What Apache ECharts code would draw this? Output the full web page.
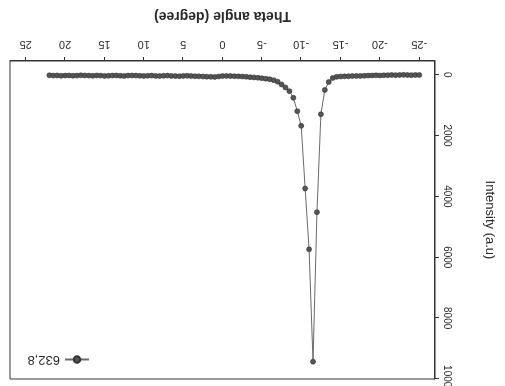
<!DOCTYPE html>
<html>
<head>
<meta charset="utf-8">
<script src="https://cdn.jsdelivr.net/npm/echarts@6/dist/echarts.min.js"></script>
<style>
  html, body { margin: 0; padding: 0; background: #fff; }
  /* the scanned figure is upside down, so the whole chart is turned */
  #chart { width: 505px; height: 386px; transform: rotate(180deg); }
</style>
</head>
<body>
<div id="chart"></div>
<script>
// theta angle (degree)
const theta = [
  22, 21.5, 21, 20.5, 20, 19.5, 19, 18.5, 18, 17.5, 17, 16.5, 16, 15.5, 15, 14.5,
  14, 13.5, 13, 12.5, 12, 11.5, 11, 10.5, 10, 9.5, 9, 8.5, 8, 7.5, 7, 6.5,
  6, 5.5, 5, 4.5, 4, 3.5, 3, 2.5, 2, 1.5, 1, 0.5, 0, -0.5, -1, -1.5,
  -2, -2.5, -3, -3.5, -4, -4.5, -5, -5.5, -6, -6.5, -7, -7.5, -8, -8.5,
  -9, -9.5, -10, -10.5, -11, -11.5, -12, -12.5, -13, -13.5, -14, -14.5, -15, -15.5,
  -16, -16.5, -17, -17.5, -18, -18.5, -19, -19.5, -20, -20.5, -21, -21.5, -22, -22.5,
  -23, -23.5, -24, -24.5, -25
];
// intensity (a.u), 632,8
const intensity = [
  20, 30, 25, 35, 30, 25, 35, 30, 20, 25, 30, 35, 25, 30, 40, 35,
  30, 25, 35, 40, 30, 25, 30, 35, 40, 35, 30, 40, 45, 35, 30, 40,
  45, 50, 40, 35, 45, 50, 55, 60, 65, 70, 75, 60, 45, 40, 45, 50,
  55, 60, 70, 80, 90, 100, 115, 130, 150, 180, 230, 320, 420, 540,
  760, 1200, 1680, 3740, 5740, 9430, 4520, 1300, 500, 240, 110, 70, 60, 55,
  50, 45, 40, 40, 35, 30, 25, 20, 25, 20, 15, 10, 15, 10,
  5, 10, 15, 10, 10
];
const thetaTicks = [-25, -20, -15, -10, -5, 0, 5, 10, 15, 20, 25];
const intensityTicks = [0, 2000, 4000, 6000, 8000, 10000];
const seriesName = '632,8';

const chart = echarts.init(document.getElementById('chart'));
const font = 'Liberation Sans, Arial, sans-serif';
const ink = '#2a2a2a';

chart.setOption({
  backgroundColor: '#fff',
  animation: false,
  textStyle: { fontFamily: font, color: ink },
  grid: {
    left: 70, right: 10, top: 7, bottom: 61,
    outerBoundsMode: 'none',
    show: true, borderColor: '#333', borderWidth: 1
  },
  legend: {
    data: [seriesName],
    left: 410, top: 15,
    itemWidth: 24, itemHeight: 8,
    textStyle: { fontFamily: font, fontSize: 13, color: ink }
  },
  xAxis: {
    type: 'value',
    min: -27, max: 27,
    name: 'Theta angle (degree)',
    nameLocation: 'middle',
    nameGap: 38,
    nameTextStyle: { fontFamily: font, fontSize: 14, fontWeight: 'bold', color: ink },
    axisLine: { onZero: false, lineStyle: { color: '#333', width: 1 } },
    axisTick: { length: 4, customValues: thetaTicks, lineStyle: { color: '#333' } },
    axisLabel: { customValues: thetaTicks, fontSize: 11, margin: 11, color: ink, fontFamily: font },
    splitLine: { show: false }
  },
  yAxis: {
    type: 'value',
    min: -450, max: 10000,
    name: 'Intensity (a.u)',
    nameLocation: 'middle',
    nameRotate: 90,
    nameGap: 48,
    nameTextStyle: { fontFamily: font, fontSize: 13, color: ink },
    axisLine: { show: true, onZero: false, lineStyle: { color: '#333', width: 1 } },
    axisTick: { show: true, length: 4, customValues: intensityTicks, lineStyle: { color: '#333' } },
    axisLabel: {
      customValues: intensityTicks, rotate: 90, fontSize: 10, margin: 7,
      color: ink, fontFamily: font, formatter: (v) => String(v)
    },
    splitLine: { show: false }
  },
  series: [{
    name: seriesName,
    type: 'line',
    data: theta.map((t, i) => [t, intensity[i]]),
    symbol: 'circle',
    symbolSize: 5,
    lineStyle: { color: '#6a6a6a', width: 1 },
    itemStyle: { color: '#555', borderColor: '#333', borderWidth: 0.6 }
  }]
});
</script>
</body>
</html>
